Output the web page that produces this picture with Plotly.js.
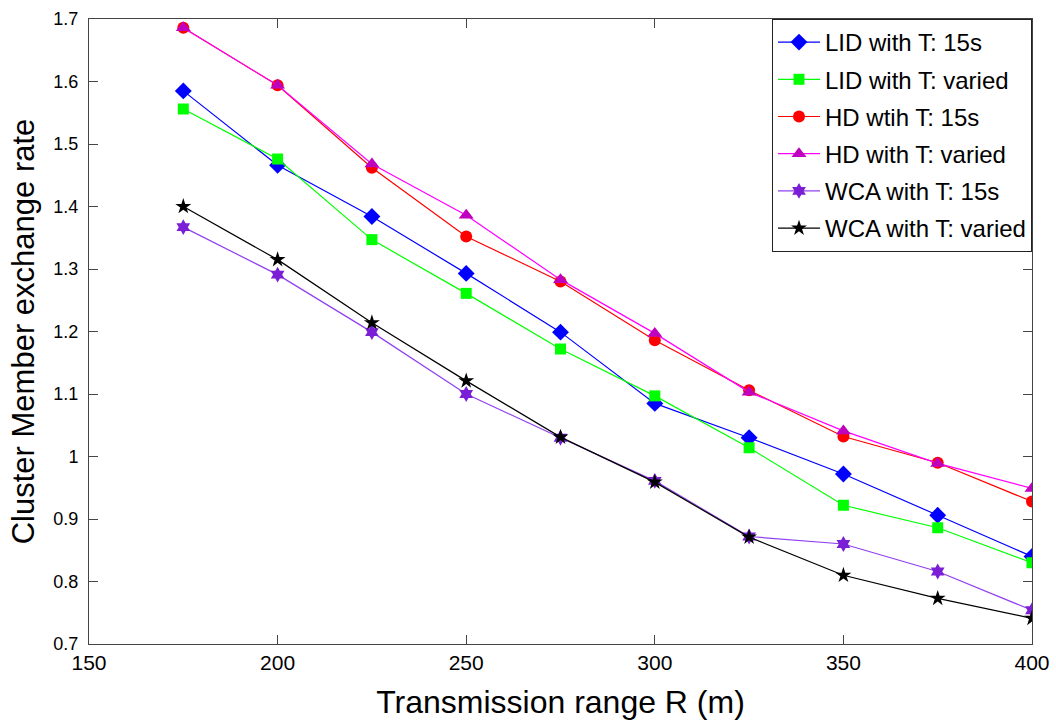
<!DOCTYPE html>
<html>
<head>
<meta charset="utf-8">
<script src="https://cdn.plot.ly/plotly-3.0.1.min.js"></script>
<style>html,body{margin:0;padding:0;background:#fff;}#chart{width:1056px;height:721px;}</style>
</head>
<body>
<div id="chart"></div>
<script>
const xRange = [175, 200, 225, 250, 275, 300, 325, 350, 375, 400];
const seriesNames = ["LID with T: 15s", "LID with T: varied", "HD wtih T: 15s", "HD with T: varied", "WCA with T: 15s", "WCA with T: varied"];
const lid15 = [1.585, 1.466, 1.384, 1.293, 1.199, 1.085, 1.030, 0.972, 0.906, 0.840];
const lidVaried = [1.556, 1.476, 1.347, 1.261, 1.172, 1.097, 1.014, 0.922, 0.886, 0.830];
const hd15 = [1.686, 1.594, 1.462, 1.352, 1.280, 1.186, 1.106, 1.032, 0.990, 0.928];
const hdVaried = [1.686, 1.594, 1.468, 1.386, 1.283, 1.197, 1.103, 1.041, 0.989, 0.949];
const wca15 = [1.367, 1.291, 1.199, 1.100, 1.030, 0.961, 0.872, 0.860, 0.816, 0.754];
const wcaVaried = [1.400, 1.315, 1.214, 1.121, 1.031, 0.959, 0.871, 0.810, 0.773, 0.741];
const yTicks = [0.7, 0.8, 0.9, 1.0, 1.1, 1.2, 1.3, 1.4, 1.5, 1.6, 1.7];
const yTickText = ["0.7", "0.8", "0.9", "1", "1.1", "1.2", "1.3", "1.4", "1.5", "1.6", "1.7"];
const xTicks = [150, 200, 250, 300, 350, 400];

const styles = [
  {line: '#0000ff', marker: '#0000ff', symbol: 'diamond', size: 13},
  {line: '#00ff00', marker: '#00ff00', symbol: 'square', size: 11},
  {line: '#ff0000', marker: '#ff0000', symbol: 'circle', size: 12},
  {line: '#ff00ff', marker: '#bf00bf', symbol: 'triangle-up', size: 13},
  {line: '#9040f0', marker: '#7a1fd6', symbol: 'hexagram', size: 12},
  {line: '#000000', marker: '#000000', symbol: 'star', size: 12}
];
const allY = [lid15, lidVaried, hd15, hdVaried, wca15, wcaVaried];

const data = allY.map((y, i) => ({
  x: xRange, y: y, name: seriesNames[i], type: 'scatter', mode: 'lines+markers',
  legendgroup: 'g' + i,
  line: {color: styles[i].line, width: 1.2},
  marker: {color: styles[i].marker, symbol: styles[i].symbol, size: styles[i].size, line: {width: 0}}
}));

const font = 'Liberation Sans, Arial, Helvetica, sans-serif';
const layout = {
  width: 1056, height: 721,
  margin: {l: 89, r: 24, t: 19, b: 77},
  paper_bgcolor: '#fff', plot_bgcolor: '#fff',
  font: {family: font, color: '#000', size: 17},
  showlegend: true,
  legend: {
    x: 1, xanchor: 'right', y: 1, yanchor: 'top',
    bgcolor: '#fff', bordercolor: '#222', borderwidth: 1,
    font: {family: font, size: 24, color: '#000'},
    traceorder: 'grouped', tracegroupgap: 3, itemwidth: 42
  },
  xaxis: {
    range: [150, 400], tickvals: xTicks, ticks: 'inside', ticklen: 9, tickcolor: '#444',
    showline: true, linecolor: '#444', linewidth: 1, mirror: 'ticks', showgrid: false, zeroline: false,
    tickfont: {family: font, size: 21}, ticklabelstandoff: 0,
    title: {text: 'Transmission range R (m)', font: {family: font, size: 32}, standoff: 17}
  },
  yaxis: {
    range: [0.7, 1.7], tickvals: yTicks, ticktext: yTickText, ticks: 'inside', ticklen: 9, tickcolor: '#444',
    showline: true, linecolor: '#444', linewidth: 1, mirror: 'ticks', showgrid: false, zeroline: false,
    tickfont: {family: font, size: 18}, ticklabelstandoff: 6,
    title: {text: 'Cluster Member exchange rate', font: {family: font, size: 31}, standoff: 9}
  }
};
Plotly.newPlot('chart', data, layout, {displayModeBar: false, staticPlot: true});
</script>
</body>
</html>
